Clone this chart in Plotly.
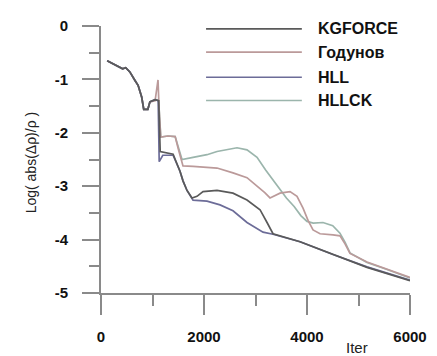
import plotly.graph_objects as go

# ---- data ----
kg_x = [120, 230, 330, 420, 480, 560, 660, 720, 790, 830, 910, 950, 1050, 1120, 1150, 1400, 1534, 1592, 1670, 1730, 1767, 1864, 1981, 2253, 2563, 2835, 3088, 3224, 3340, 3865, 4505, 5165, 6000]
kg_y = [-0.65, -0.70, -0.76, -0.80, -0.78, -0.86, -1.02, -1.11, -1.33, -1.56, -1.56, -1.42, -1.38, -1.40, -2.35, -2.40, -2.72, -2.90, -3.08, -3.17, -3.22, -3.19, -3.10, -3.08, -3.13, -3.26, -3.44, -3.68, -3.89, -4.04, -4.28, -4.52, -4.77]

god_x = [120, 230, 330, 420, 480, 560, 660, 720, 790, 830, 910, 950, 1050, 1107, 1130, 1160, 1300, 1440, 1500, 1592, 1787, 2050, 2253, 2563, 2835, 3030, 3180, 3282, 3476, 3670, 3806, 3923, 4020, 4117, 4253, 4505, 4641, 4738, 4835, 5165, 5554, 6000]
god_y = [-0.65, -0.70, -0.76, -0.80, -0.78, -0.86, -1.02, -1.11, -1.33, -1.56, -1.56, -1.42, -1.40, -1.01, -1.60, -2.08, -2.06, -2.07, -2.30, -2.62, -2.63, -2.64, -2.66, -2.75, -2.84, -3.00, -3.12, -3.22, -3.13, -3.10, -3.19, -3.41, -3.64, -3.82, -3.89, -3.91, -3.93, -4.08, -4.26, -4.42, -4.55, -4.71]

hll_x = [120, 230, 330, 420, 480, 560, 660, 720, 790, 830, 910, 950, 1050, 1110, 1130, 1200, 1400, 1534, 1592, 1670, 1787, 2058, 2311, 2563, 2835, 3029, 3146, 3340, 3865, 4505, 5165, 6000]
hll_y = [-0.65, -0.70, -0.76, -0.80, -0.78, -0.86, -1.02, -1.11, -1.33, -1.56, -1.56, -1.42, -1.38, -1.40, -2.54, -2.42, -2.42, -2.72, -2.90, -3.08, -3.26, -3.28, -3.35, -3.46, -3.68, -3.80, -3.86, -3.90, -4.04, -4.28, -4.51, -4.76]

hllck_x = [120, 230, 330, 420, 480, 560, 660, 720, 790, 830, 910, 950, 1050, 1120, 1160, 1300, 1440, 1500, 1573, 1787, 2058, 2253, 2641, 2835, 3030, 3200, 3420, 3600, 3750, 3880, 4000, 4120, 4310, 4500, 4640, 4740, 4835, 5165, 5554, 6000]
hllck_y = [-0.65, -0.70, -0.76, -0.80, -0.78, -0.86, -1.02, -1.11, -1.33, -1.56, -1.56, -1.42, -1.38, -1.40, -2.08, -2.06, -2.07, -2.28, -2.50, -2.46, -2.41, -2.35, -2.28, -2.32, -2.46, -2.70, -2.98, -3.22, -3.38, -3.55, -3.66, -3.69, -3.68, -3.74, -3.88, -4.05, -4.25, -4.43, -4.56, -4.72]

series_names = ["KGFORCE", "Годунов", "HLL", "HLLCK"]
series_colors = ["#5a5a5a", "#bb9a9a", "#6c6c98", "#9bb5ac"]
series_data = [(kg_x, kg_y), (god_x, god_y), (hll_x, hll_y), (hllck_x, hllck_y)]

x_tickvals = [0, 2000, 4000, 6000]
y_tickvals = [0, -1, -2, -3, -4, -5]

fig = go.Figure()
# draw order: lighter ones first so dark lines sit on top
for idx in [3, 1, 2, 0]:
    xs, ys = series_data[idx]
    fig.add_trace(go.Scatter(x=xs, y=ys, mode="lines", name=series_names[idx],
                             line=dict(color=series_colors[idx], width=1.7),
                             showlegend=False))

axis_col = "#8a8a8a"
font_fam = "Liberation Sans, Arial, sans-serif"
tickfont = dict(family=font_fam, size=15, color="#111", weight="bold")

fig.update_xaxes(range=[0, 6000], tickvals=x_tickvals, ticktext=[str(v) for v in x_tickvals],
                 showline=True, linecolor=axis_col, linewidth=2,
                 ticks="outside", ticklen=20, tickwidth=2, tickcolor=axis_col,
                 minor=dict(dtick=1000, tick0=0, ticks="outside", ticklen=11, tickwidth=2, tickcolor=axis_col),
                 showgrid=False, zeroline=False, tickfont=tickfont, ticklabelstandoff=9)
fig.update_yaxes(range=[-5, 0], tickvals=y_tickvals, ticktext=[str(v) for v in y_tickvals],
                 showline=True, linecolor=axis_col, linewidth=2,
                 ticks="outside", ticklen=17, tickwidth=2, tickcolor=axis_col,
                 minor=dict(dtick=0.5, tick0=0, ticks="outside", ticklen=10, tickwidth=2, tickcolor=axis_col),
                 showgrid=False, zeroline=False, tickfont=tickfont, ticklabelstandoff=11)

# custom legend (long sample lines as in the reference)
leg_y = [0.989, 0.902, 0.808, 0.721]
shapes = []
annotations = []
for name, col, yy in zip(series_names, series_colors, leg_y):
    shapes.append(dict(type="line", xref="paper", yref="paper", x0=0.340, x1=0.650, y0=yy, y1=yy,
                       line=dict(color=col, width=1.7)))
    annotations.append(dict(xref="paper", yref="paper", x=0.697, y=yy, text="<b>" + name + "</b>",
                            showarrow=False, xanchor="left", yanchor="middle",
                            font=dict(family=font_fam, size=16, color="#111")))

annotations.append(dict(xref="paper", yref="paper", x=-0.226, y=0.49, text="Log( abs(Δρ)/ρ )",
                        textangle=-90, showarrow=False, xanchor="center", yanchor="middle",
                        font=dict(family=font_fam, size=14, color="#222")))
annotations.append(dict(xref="paper", yref="paper", x=0.828, y=-0.205, text="Iter",
                        showarrow=False, xanchor="center", yanchor="middle",
                        font=dict(family=font_fam, size=15, color="#222")))

# page body adds an 8px offset, so the margins are shifted to keep the plot area in place
fig.update_layout(width=437, height=356, margin=dict(l=93, r=35, t=9, b=71),
                  paper_bgcolor="white", plot_bgcolor="white",
                  shapes=shapes, annotations=annotations, showlegend=False)

fig.write_html("out.html")
